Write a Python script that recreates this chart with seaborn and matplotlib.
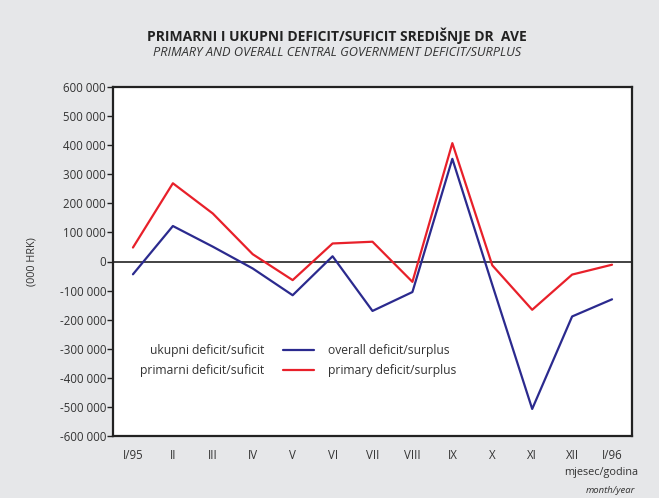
import matplotlib.pyplot as plt
import matplotlib.ticker as mticker
import pandas as pd
import seaborn as sns

months = ["I/95", "II", "III", "IV", "V", "VI", "VII", "VIII", "IX", "X",
          "XI", "XII", "I/96"]
overall = [-44000, 122000, 51000, -24000, -116000, 18000, -170000, -105000,
           353000, -80000, -507000, -189000, -130000]
primary = [48000, 269000, 165000, 25000, -64000, 62000, 68000, -70000,
           407000, -13000, -166000, -45000, -11000]

labels_hr = ["ukupni deficit/suficit", "primarni deficit/suficit"]
labels_en = ["overall deficit/surplus", "primary deficit/surplus"]

BG = "#e6e7e9"
TXT = "#333333"


def fmt(v, pos):
    s = f"{abs(int(v)):,}".replace(",", " ")
    return ("-" if v < 0 else "") + s


def main():
    sns.set_theme(style="white")
    plt.rcParams['font.family'] = ['Open Sans', 'DejaVu Sans']

    df = pd.DataFrame({
        "month": months * 2,
        "pos": list(range(len(months))) * 2,
        "value": overall + primary,
        "series": [labels_en[0]] * len(months) + [labels_en[1]] * len(months),
    })

    fig = plt.figure(figsize=(6.59, 4.98), dpi=100, facecolor=BG)
    ax = fig.add_axes([113 / 659, 1 - 436 / 498, 519 / 659, 349 / 498])
    ax.set_facecolor("white")

    sns.lineplot(data=df, x="pos", y="value", hue="series",
                 palette=["#2b2a8e", "#e8202a"], linewidth=1.6, ax=ax)
    ax.axhline(0, color="#222222", linewidth=1.2, zorder=1)

    ax.set_xlim(-0.5, len(months) - 0.5)
    ax.set_ylim(-600000, 600000)
    ax.set_xticks(range(len(months)))
    ax.set_xticklabels(months)
    ax.set_yticks(range(-600000, 600001, 100000))
    ax.yaxis.set_major_formatter(mticker.FuncFormatter(fmt))
    ax.tick_params(axis="y", left=True, length=4, width=1, color="#222222",
                   labelsize=8.3, labelcolor=TXT, pad=1)
    ax.tick_params(axis="x", bottom=False, labelsize=8.3, labelcolor=TXT,
                   pad=3)
    ax.set_xlabel("")
    ax.set_ylabel("")
    for sp in ax.spines.values():
        sp.set_color("#222222")
        sp.set_linewidth(1.6)

    handles = ax.get_legend().legend_handles
    ax.get_legend().remove()
    leg_hr = ax.legend(handles, labels_hr, loc="upper right",
                       bbox_to_anchor=((314 - 113) / 519, 0.264),
                       markerfirst=False, frameon=False, fontsize=8.7,
                       handlelength=2.6, handletextpad=1.5, borderpad=0,
                       borderaxespad=0, labelspacing=0.6, labelcolor=TXT)
    ax.add_artist(leg_hr)
    ax.legend(handles, labels_en, loc="upper left",
              bbox_to_anchor=((328 - 113) / 519, 0.264),
              frameon=False, fontsize=8.7, handlelength=0, handletextpad=0,
              borderpad=0, borderaxespad=0, labelspacing=0.6,
              labelcolor=TXT)

    fig.text(337 / 659, 1 - 36 / 498,
             "PRIMARNI I UKUPNI DEFICIT/SUFICIT SREDIŠNJE DR  AVE",
             ha="center", va="center", fontsize=10, fontweight="bold",
             color="#222222")
    fig.text(337 / 659, 1 - 53 / 498,
             "PRIMARY AND OVERALL CENTRAL GOVERNMENT DEFICIT/SURPLUS",
             ha="center", va="center", fontsize=9.2, style="italic",
             color=TXT)
    fig.text(32 / 659, 1 - 262 / 498, "(000 HRK)",
             rotation=90, ha="center", va="center", fontsize=7.8, color=TXT)
    fig.text(638 / 659, 1 - 472 / 498, "mjesec/godina", ha="right",
             va="center", fontsize=7.8, color=TXT)
    fig.text(635 / 659, 1 - 490 / 498, "month/year", ha="right",
             va="center", fontsize=6.8, style="italic", color=TXT)

    plt.savefig("out.png", dpi=100, facecolor=BG)
    plt.close()


if __name__ == '__main__':
    main()
